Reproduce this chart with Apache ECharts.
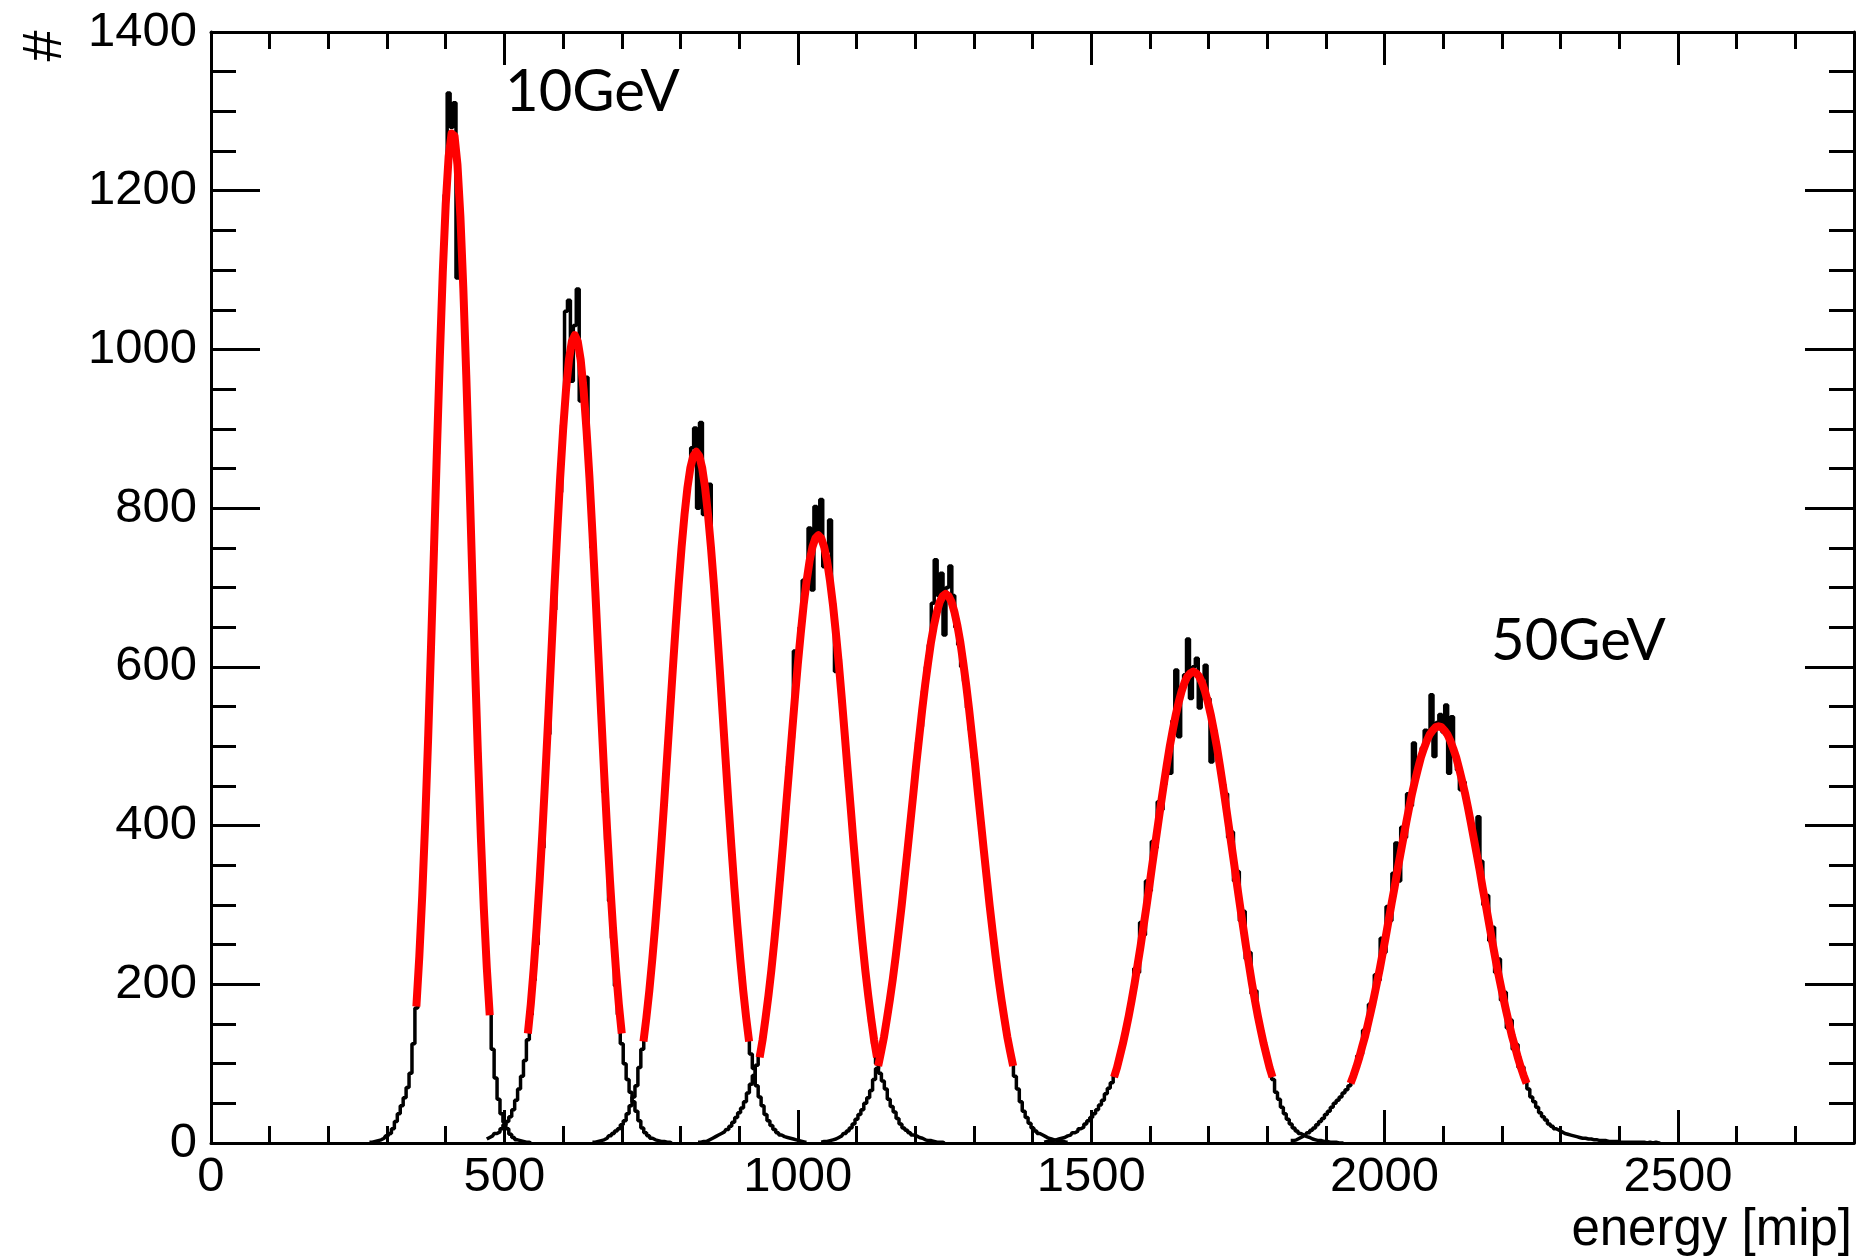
<!DOCTYPE html>
<html><head><meta charset="utf-8">
<script src="https://cdn.jsdelivr.net/npm/echarts@6/dist/echarts.min.js"></script>
<style>html,body{margin:0;padding:0;background:#fff}#c{width:1867px;height:1256px}</style>
</head><body><div id="c"></div><script>
// ---- data ----
const binWidth = 5;      // histogram bin width [mip]
const fitStep = 5;       // sampling step of the fitted curves [mip]

const h10Start = 270;
const h10Counts = [1,1,2,3,4,6,9,12,18,27,37,47,57,70,88,125,170,238,315,400,512,622,752,868,995,1092,1195,1323,1280,1311,1090,1172,1072,975,842,728,596,492,380,298,218,165,118,82,55,37,26,18,11,7,4,3,2,1,1,0];
const h15Start = 470;
const h15Counts = [5,7,9,12,14,18,23,27,33,42,54,68,84,104,130,162,205,250,318,372,455,515,610,672,770,820,905,1048,1062,960,1030,1076,935,960,965,840,750,690,598,530,442,382,305,258,198,162,125,100,80,64,52,40,28,19,13,9,6,4,3,2,2,1,1,0];
const h20Start = 650;
const h20Counts = [1,1,2,3,4,6,9,12,15,18,23,28,37,47,58,72,95,118,146,180,215,258,305,352,405,462,520,575,632,684,735,775,812,845,876,901,800,908,792,815,830,720,675,625,560,505,450,392,340,292,248,210,172,140,112,94,72,58,47,36,28,22,17,13,10,8,7,6,5,4,3,2,1,1];
const h25Start = 830;
const h25Counts = [1,1,2,2,4,6,8,10,12,14,17,21,26,32,38,44,52,63,74,85,98,112,132,158,190,222,250,296,330,382,420,475,510,620,598,650,709,712,775,697,802,760,811,726,745,785,680,594,610,555,520,462,428,372,338,290,256,215,184,152,125,100,88,78,68,55,46,39,31,24,19,16,13,10,9,7,6,4,3,3,2,1,1,1,0];
const h30Start = 1040;
const h30Counts = [1,2,2,3,4,5,7,9,12,15,19,24,30,36,42,50,57,66,80,94,110,128,150,172,198,226,258,290,318,362,392,430,470,505,525,570,600,628,680,735,690,718,640,700,727,690,650,628,600,582,548,520,485,452,418,380,345,312,280,246,218,190,166,142,122,104,84,68,52,40,32,25,19,15,12,10,8,6,5,4,3,2,2,1,1];
const h40Start = 1420;
const h40Counts = [1,2,2,3,4,5,6,7,9,10,13,15,18,20,24,28,32,37,42,48,54,62,69,76,85,97,112,128,145,165,183,220,215,278,262,330,318,380,372,430,420,452,485,466,532,596,512,575,590,635,560,600,611,548,585,602,560,480,520,490,468,452,440,385,392,330,342,280,292,232,240,188,192,155,140,122,108,93,80,64,55,45,37,30,24,19,15,12,10,8,7,5,4,3,3,2,2,1,1,1,0,0,0];
const h50Start = 1840;
const h50Counts = [3,3,4,6,8,10,13,16,19,23,27,31,36,40,45,50,54,58,63,67,72,82,92,110,112,142,140,175,172,212,205,258,240,298,280,340,378,330,398,385,440,425,504,468,480,498,520,512,565,487,530,540,518,552,466,537,490,470,445,455,430,410,392,372,411,355,300,312,255,272,215,232,180,190,145,155,118,124,95,96,78,68,58,52,45,38,33,29,24,21,18,16,14,12,11,10,9,8,7,6,6,5,5,4,4,3,3,3,2,2,2,2,1,1,1,1,1,1,1,1,1,0,1,0,1,0,0];

const f10Start = 350;
const f10Values = [172,235,312,404,509,626,748,873,991,1097,1183,1243,1272,1269,1233,1168,1077,968,848,723,601,487,384,295,221,161];
const f15Start = 540;
const f15Values = [138,175,220,272,330,395,466,540,617,695,769,838,898,949,987,1010,1018,1010,987,949,898,838,769,695,617,540,466,395,330,272,220,175,138];
const f20Start = 737;
const f20Values = [128,158,192,231,274,321,372,426,483,540,597,652,704,751,792,826,851,866,871,866,851,826,792,751,704,652,597,540,483,426,372,321,274,231,192,158,128];
const f25Start = 935;
const f25Values = [108,130,157,186,218,254,293,335,378,424,469,515,560,603,642,678,708,733,751,762,766,762,751,733,708,678,642,603,560,515,469,424,378,335,293,254,218,186,157,130,108];
const f30Start = 1137;
const f30Values = [97,115,134,157,181,207,236,267,299,334,369,405,441,478,512,546,577,605,631,652,669,682,689,692,689,682,669,652,631,605,577,546,512,478,441,405,369,334,299,267,236,207,181,157,134,115,97];
const f40Start = 1539;
const f40Values = [83,95,110,125,142,160,180,201,224,247,272,297,323,350,376,402,428,453,477,500,520,539,555,569,580,588,592,594,592,588,580,569,555,539,520,500,477,453,428,402,376,350,323,297,272,247,224,201,180,160,142,125,110,95,83];
const f50Start = 1942;
const f50Values = [75,85,96,108,122,135,151,167,184,202,220,240,260,281,302,322,344,364,384,404,423,441,457,472,486,497,507,515,520,524,525,524,520,515,507,497,486,472,457,441,423,404,384,364,344,322,302,281,260,240,220,202,184,167,151,135,122,108,96,85,75];

const xRange = [0, 2800];
const yRange = [0, 1400];
const xMajor = 500, xMinor = 100, yMajor = 200, yMinor = 50;
const peakLabels = ['10GeV', '50GeV'];
const xTitle = 'energy [mip]';
const yTitle = '#';

// ---- chart ----
const FONT = '"Liberation Sans", Arial, Helvetica, sans-serif';
const hists = [[h10Start,h10Counts],[h15Start,h15Counts],[h20Start,h20Counts],[h25Start,h25Counts],[h30Start,h30Counts],[h40Start,h40Counts],[h50Start,h50Counts]];
const fits = [[f10Start,f10Values],[f15Start,f15Values],[f20Start,f20Values],[f25Start,f25Values],[f30Start,f30Values],[f40Start,f40Values],[f50Start,f50Values]];

const series = [];
hists.forEach(([s, c]) => {
  series.push({type:'line', xAxisIndex:0, yAxisIndex:0, step:'middle', symbol:'none', silent:true,
    data: c.map((v,i) => [s + i*binWidth, v]),
    lineStyle:{color:'#000', width:3.5}, z:2});
});
fits.forEach(([s, v]) => {
  series.push({type:'line', xAxisIndex:0, yAxisIndex:0, symbol:'none', silent:true, smooth:false,
    data: v.map((y,i) => [s + i*fitStep, y]),
    lineStyle:{color:'#ff0000', width:8, cap:'butt', join:'round'}, z:3});
});

const plain = v => String(v);
function axLine(show) { return {show, onZero:false, lineStyle:{color:'#000', width:3}}; }
function xAx(pos, interval, len, labels, lineShow) {
  return {type:'value', min:xRange[0], max:xRange[1], interval, position:pos,
    axisLine: axLine(lineShow),
    axisTick:{show:true, inside:true, length:len, lineStyle:{color:'#000', width:3}},
    axisLabel:{show:labels, color:'#000', fontSize:49, fontFamily:FONT, margin:10, showMaxLabel:false, formatter:plain},
    splitLine:{show:false}};
}
function yAx(pos, interval, len, labels, lineShow) {
  return {type:'value', min:yRange[0], max:yRange[1], interval, position:pos,
    axisLine: axLine(lineShow),
    axisTick:{show:true, inside:true, length:len, lineStyle:{color:'#000', width:3}},
    minorTick:{show:false},
    axisLabel:{show:labels, color:'#000', fontSize:49, fontFamily:FONT, margin:14, formatter:plain},
    splitLine:{show:false}};
}

const chart = echarts.init(document.getElementById('c'), null, {renderer:'canvas'});
chart.setOption({
  animation:false,
  backgroundColor:'#fff',
  grid:{left:211, right:13, top:32, bottom:113, containLabel:false},
  xAxis:[xAx('bottom', xMajor, 33, true, true), xAx('bottom', xMinor, 17, false, false),
         xAx('top', xMajor, 33, false, true), xAx('top', xMinor, 17, false, false)],
  yAxis:[yAx('left', yMajor, 49, true, true), yAx('left', yMinor, 25, false, false),
         yAx('right', yMajor, 49, false, true), yAx('right', yMinor, 25, false, false)],
  series,
  graphic:[
    {type:'text', x:46, y:46, rotation:Math.PI/2,
      style:{text:yTitle, fontSize:56, fontFamily:FONT, fill:'#000', textAlign:'center', textVerticalAlign:'middle'}},
    {type:'text', x:1852, y:1231,
      style:{text:xTitle, fontSize:51, fontFamily:FONT, fill:'#000', textAlign:'right', textVerticalAlign:'middle'}},
    {type:'text', x:505, y:92,
      style:{text:peakLabels[0], fontSize:58, fontFamily:'Lato, "Open Sans", sans-serif', fill:'#000', textAlign:'left', textVerticalAlign:'middle'}},
    {type:'text', x:1491, y:641,
      style:{text:peakLabels[1], fontSize:58, fontFamily:'Lato, "Open Sans", sans-serif', fill:'#000', textAlign:'left', textVerticalAlign:'middle'}}
  ]
});
</script></body></html>
